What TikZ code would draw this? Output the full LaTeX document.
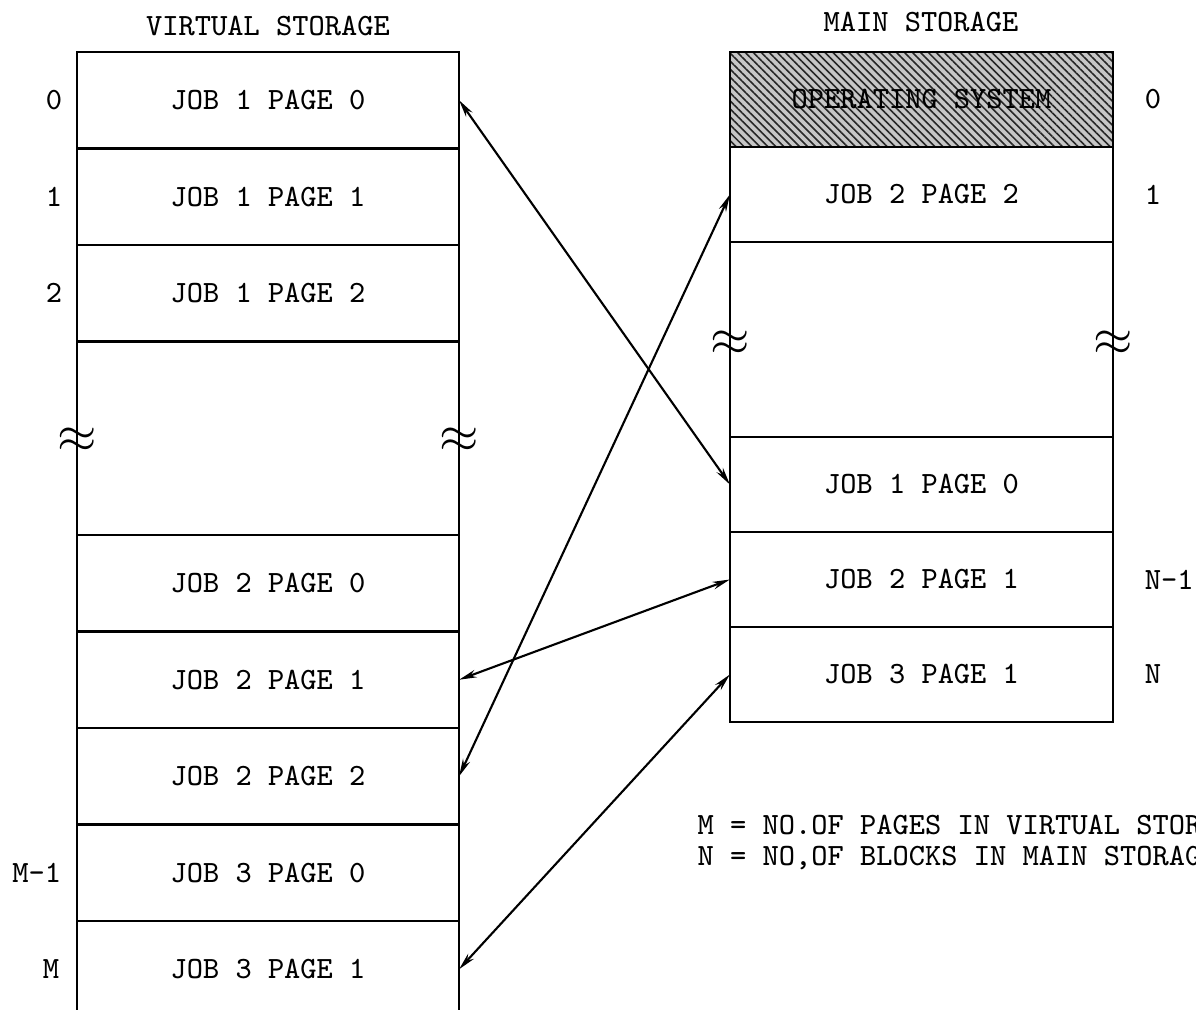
\documentclass[tikz,border=0pt]{standalone}
\usepackage{fontspec}
\usepackage{tikz}
\usetikzlibrary{positioning,arrows.meta,patterns.meta}

\tikzset{
  cell/.style={draw, line width=0.7pt, minimum width=3.82cm, minimum height=0.965cm, inner sep=0pt, outer sep=0pt},
  block/.style={draw, line width=0.7pt, minimum width=3.83cm, minimum height=0.95cm, inner sep=0pt, outer sep=0pt},
  num/.style={inner sep=0pt},
  brk/.style={inner sep=0pt, font=\fontsize{15}{15}\selectfont},
  side/.style={line width=0.7pt},
  link/.style={{Stealth[length=5pt,width=2.2pt]}-{Stealth[length=5pt,width=2.2pt]}, line width=0.6pt},
}

\begin{document}
\begin{tikzpicture}[x=0.01cm, y=-0.01cm, font=\ttfamily\fontsize{8.8}{10}\selectfont]
    \useasboundingbox (0,0) rectangle (1196,1010);
    \clip (0,0) rectangle (1196,1010);

    % Virtual storage
    \node (vstitle) at (268, 26) {VIRTUAL STORAGE};
    \node[cell] (vs0) at (268, 100.25) {JOB 1 PAGE 0};
    \node[cell] (vs1) at (268, 196.75) {JOB 1 PAGE 1};
    \node[cell] (vs2) at (268, 293.25) {JOB 1 PAGE 2};
    \node[cell] (vs3) at (268, 583.25) {JOB 2 PAGE 0};
    \node[cell] (vs4) at (268, 679.75) {JOB 2 PAGE 1};
    \node[cell] (vs5) at (268, 776.25) {JOB 2 PAGE 2};
    \node[cell] (vs6) at (268, 872.75) {JOB 3 PAGE 0};
    \node[cell, draw=none] (vs7) at (268, 969.25) {JOB 3 PAGE 1};
    \draw[side] (vs7.north west) -- ++(0, 90);
    \draw[side] (vs7.north east) -- ++(0, 90);

    % Break in virtual storage
    \draw[side] (vs2.south west) -- (vs3.north west);
    \draw[side] (vs2.south east) -- (vs3.north east);
    \node[brk] (vsbrkl) at (77, 440) {$\approx$};
    \node[brk] (vsbrkr) at (459, 440) {$\approx$};

    % Page numbers
    \node[num, left=0.14cm of vs0.west] (vsn0) {0};
    \node[num, left=0.14cm of vs1.west] (vsn1) {1};
    \node[num, left=0.14cm of vs2.west] (vsn2) {2};
    \node[num, left=0.15cm of vs6.west] (vsnm1) {M-1};
    \node[num, left=0.17cm of vs7.west] (vsnm) {M};

    % Main storage
    \node (mstitle) at (921, 22) {MAIN STORAGE};
    \node[block, preaction={fill=gray!45}, pattern={Lines[angle=-45, distance=1.6pt, line width=0.45pt]}, pattern color=black!85] (ms0) at (921.5, 99.5) {OPERATING SYSTEM};
    \node[block] (ms1) at (921.5, 194.5) {JOB 2 PAGE 2};
    \node[block] (ms2) at (921.5, 484.5) {JOB 1 PAGE 0};
    \node[block] (ms3) at (921.5, 579.5) {JOB 2 PAGE 1};
    \node[block] (ms4) at (921.5, 674.5) {JOB 3 PAGE 1};

    % Break in main storage
    \draw[side] (ms1.south west) -- (ms2.north west);
    \draw[side] (ms1.south east) -- (ms2.north east);
    \node[brk] (msbrkl) at (730, 343) {$\approx$};
    \node[brk] (msbrkr) at (1113, 343) {$\approx$};

    % Block numbers
    \node[num, right=0.31cm of ms0.east, anchor=west] (msn0) {0};
    \node[num, right=0.31cm of ms1.east, anchor=west] (msn1) {1};
    \node[num, right=0.31cm of ms3.east, anchor=west] (msnn1) {N-1};
    \node[num, right=0.31cm of ms4.east, anchor=west] (msnn) {N};

    % Page to block mapping
    \draw[link] (vs0.east) -- (ms2.west);
    \draw[link] (vs5.east) -- (ms1.west);
    \draw[link] (vs4.east) -- (ms3.west);
    \draw[link] (vs7.east) -- (ms4.west);

    % Legend
    \node[num, anchor=west] (notem) at (697, 825) {M = NO.OF PAGES IN VIRTUAL STORAGE};
    \node[num, anchor=west] (noten) at (697, 858) {N = NO,OF BLOCKS IN MAIN STORAGE};
\end{tikzpicture}
\end{document}
